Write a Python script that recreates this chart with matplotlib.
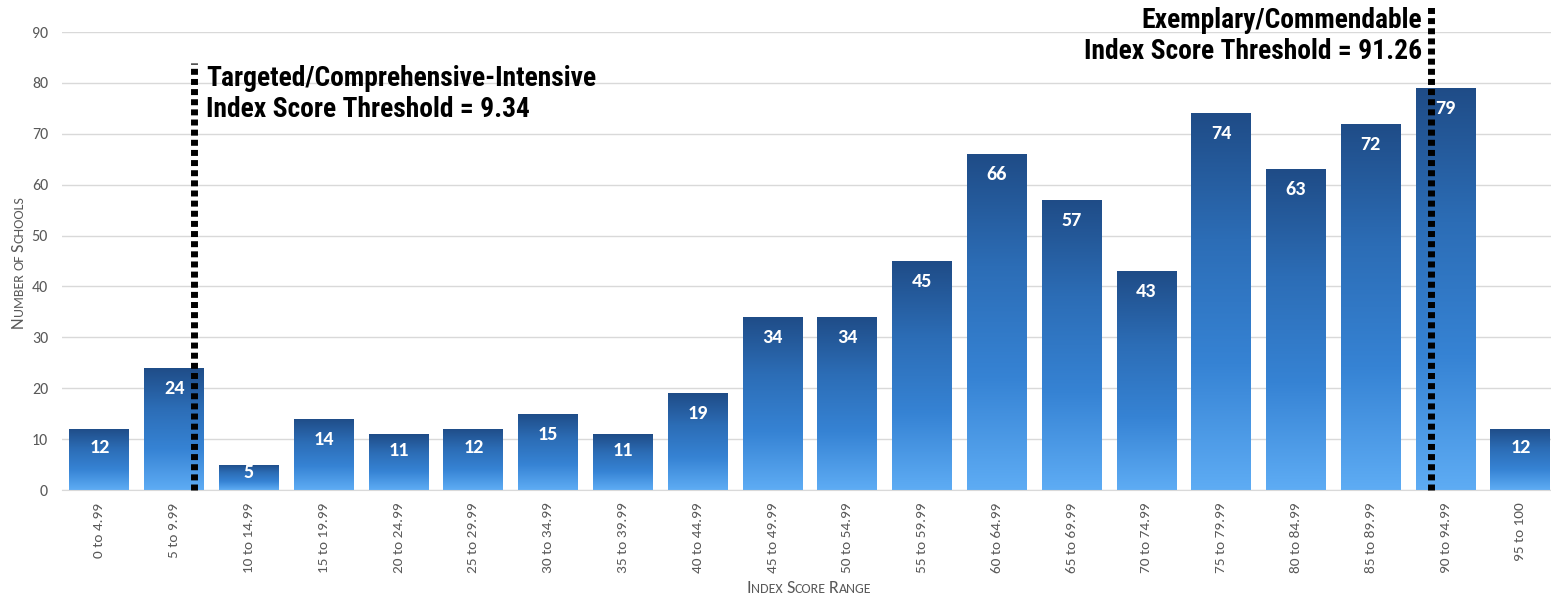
import numpy as np
import matplotlib
matplotlib.use('Agg')
import matplotlib.pyplot as plt
from matplotlib.colors import LinearSegmentedColormap
from matplotlib.transforms import IdentityTransform
from matplotlib.font_manager import FontProperties, fontManager

# ---------------- data ----------------
categories = ['0 to 4.99', '5 to 9.99', '10 to 14.99', '15 to 19.99', '20 to 24.99',
              '25 to 29.99', '30 to 34.99', '35 to 39.99', '40 to 44.99', '45 to 49.99',
              '50 to 54.99', '55 to 59.99', '60 to 64.99', '65 to 69.99', '70 to 74.99',
              '75 to 79.99', '80 to 84.99', '85 to 89.99', '90 to 94.99', '95 to 100']
counts = [12, 24, 5, 14, 11, 12, 15, 11, 19, 34, 34, 45, 66, 57, 43, 74, 63, 72, 79, 12]
y_ticks = [0, 10, 20, 30, 40, 50, 60, 70, 80, 90]
threshold_lines1 = ['Targeted/Comprehensive-Intensive', 'Index Score Threshold = 9.34']
threshold_lines2 = ['Exemplary/Commendable', 'Index Score Threshold = 91.26']
threshold_pos = [1.26, 17.8]      # position on category axis
threshold_top = [84, 95]
x_label = 'Index Score Range'
y_label = 'Number of Schools'


def _w(f):
    try:
        return int(f.weight)
    except (TypeError, ValueError):
        return 700 if 'bold' in str(f.weight).lower() else 400


available = set(f.name for f in fontManager.ttflist)
available_bold = set(f.name for f in fontManager.ttflist if _w(f) >= 700)


def pick(cands, pool, default):
    for c in cands:
        if c in pool:
            return c
    return default


NARROW = pick(['Liberation Sans Narrow', 'Arial Narrow', 'Archivo Narrow', 'Roboto Condensed',
               'PT Sans Narrow', 'Fira Sans Condensed', 'IBM Plex Sans Condensed',
               'Encode Sans Condensed', 'Barlow Semi Condensed', 'Asap Condensed',
               'Sofia Sans Condensed', 'Open Sans Condensed', 'Pragati Narrow',
               'Barlow Condensed', 'Saira Condensed'], available_bold, 'DejaVu Sans')
BODY = pick(['Carlito', 'Calibri', 'Lato'], available, 'DejaVu Sans')

W, H, DPI = 1551, 596, 100
fig = plt.figure(figsize=(W / DPI, H / DPI), dpi=DPI)
ax = fig.add_axes([62 / W, 106 / H, 1 - 62 / W, 458 / H])
renderer = fig.canvas.get_renderer()

x = np.arange(len(categories))
bars = ax.bar(x, counts, width=0.8, color='none', edgecolor='none', zorder=2)

cmap = LinearSegmentedColormap.from_list('bluegrad', ['#5eacf4', '#3683d4', '#2c6db6', '#1f4c87'])
grad = np.linspace(0, 1, 256).reshape(-1, 1)
for b in bars:
    x0 = b.get_x()
    w = b.get_width()
    h = b.get_height()
    im = ax.imshow(grad, cmap=cmap, extent=[x0, x0 + w, 0, h], origin='lower',
                   aspect='auto', zorder=2, interpolation='bicubic')
    im.set_clip_path(b)

ax.set_xlim(-0.5, -0.5 + (W - 62) / 74.79)
ax.set_ylim(0, 90)

# value labels
px_per_unit = 458 / 90
for xi, v in zip(x, counts):
    off = min(20.5, 0.3 * v * px_per_unit)
    ax.annotate(str(v), (xi, v), xytext=(0, -off), textcoords='offset pixels',
                ha='center', va='center', color='white', fontsize=14.5,
                fontweight='bold', family=BODY, zorder=4)

# grid / axes styling
ax.set_yticks(y_ticks)
ax.set_xticks(x)
ax.set_xticklabels(categories, rotation=90, fontsize=11, color='#595959', family=BODY)
ax.set_yticklabels([str(t) for t in y_ticks], fontsize=11.5, color='#595959', family=BODY)
ax.tick_params(axis='both', length=0)
ax.tick_params(axis='y', pad=10)
ax.tick_params(axis='x', pad=9)
ax.grid(axis='y', color='#d9d9d9', lw=1, zorder=0)
ax.set_axisbelow(True)
for s in ['top', 'right', 'left']:
    ax.spines[s].set_visible(False)
ax.spines['bottom'].set_color('#d9d9d9')

# threshold lines
for xp, top in zip(threshold_pos, threshold_top):
    ax.plot([xp, xp], [0, top], color='black', lw=5, linestyle=(0, (0.86, 0.6)),
            dash_capstyle='butt', clip_on=False, zorder=5)

# annotation font size fitted to the reference line width
fp_test = FontProperties(family=NARROW, size=20.5, weight='bold')
wtest = renderer.get_text_width_height_descent(threshold_lines1[0], fp_test, ismath=False)[0]
ratio = min(1.15, max(0.72, 391.0 / wtest))
tsize = 20.5 * ratio

tkw = dict(fontsize=tsize, fontweight='bold', family=NARROW, zorder=6, clip_on=False,
           va='baseline')
ax.text(1.43, 79.4, threshold_lines1[0], ha='left', **tkw)
ax.text(1.43, 73.3, threshold_lines1[1], ha='left', **tkw)
ax.text(17.69, 90.7, threshold_lines2[0], ha='right', **tkw)
ax.text(17.69, 84.7, threshold_lines2[1], ha='right', **tkw)


# small caps axis labels
def measure(s, size):
    fp = FontProperties(family=BODY, size=size)
    return renderer.get_text_width_height_descent(s, fp, ismath=False)[0]


def small_caps(text, cx, cy, big, small, rotation=0, color='#595959'):
    pieces = []
    space = measure('x x', small) - measure('xx', small)
    cur, cur_big = '', None
    for ch in text:
        if ch == ' ':
            if cur:
                pieces.append((cur.upper(), big if cur_big else small))
            pieces.append((None, space))
            cur, cur_big = '', None
            continue
        isbig = ch.isupper()
        if cur and isbig != cur_big:
            pieces.append((cur.upper(), big if cur_big else small))
            cur = ''
        cur += ch
        cur_big = isbig
    if cur:
        pieces.append((cur.upper(), big if cur_big else small))
    widths = [p[1] if p[0] is None else measure(p[0], p[1]) for p in pieces]
    total = sum(widths)
    pos = -total / 2
    for (s, sz), wdt in zip(pieces, widths):
        if s is not None:
            if rotation == 0:
                fig.text(cx + pos, cy, s, transform=IdentityTransform(), ha='left',
                         va='baseline', fontsize=sz, color=color, family=BODY)
            else:
                fig.text(cx, cy + pos, s, transform=IdentityTransform(), ha='left',
                         va='baseline', fontsize=sz, color=color, family=BODY,
                         rotation=90, rotation_mode='anchor')
        pos += wdt


small_caps(x_label, 809, 3, 13, 10)
small_caps(y_label, 23, 334, 13, 10, rotation=90)

fig.savefig('out.png', dpi=DPI)
